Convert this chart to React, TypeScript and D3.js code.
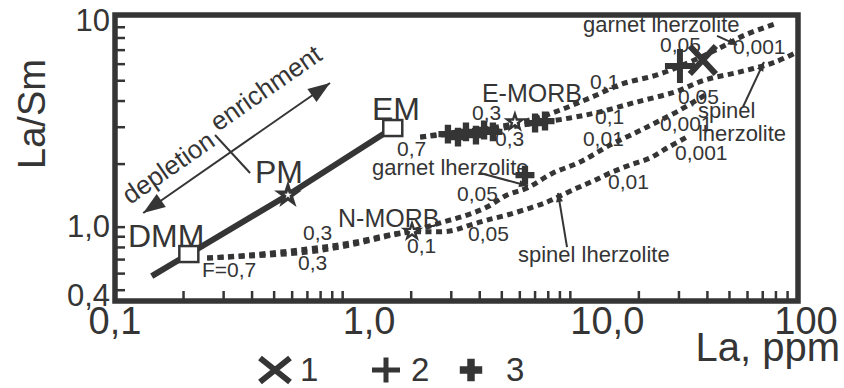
import React, { useEffect, useRef } from "react";
import * as d3 from "d3";

// La (ppm) vs La/Sm
const mixingLine = [[0.145, 0.584], [0.211, 0.744], [0.575, 1.423], [1.66, 2.973]];

const reservoirs = [
  { name: "DMM", la: 0.211, ratio: 0.744, kind: "square", labelLa: 0.114, labelRatio: 0.803 },
  { name: "PM", la: 0.575, ratio: 1.423, kind: "star", labelLa: 0.412, labelRatio: 1.624 },
  { name: "EM", la: 1.66, ratio: 2.973, kind: "square", labelLa: 1.345, labelRatio: 3.246 },
];

// melting curves (dotted)
const garnetFromEM = [[2.19, 2.69], [2.96, 2.82], [4.44, 2.97], [6.65, 3.25], [9.01, 3.62], [12.2, 4.14], [16.9, 4.83], [24.0, 5.33], [33.5, 6.14], [45.4, 7.17], [58.5, 8.27], [79.3, 9.33]];
const spinelFromEM = [[2.19, 2.69], [2.96, 2.78], [4.44, 2.91], [6.65, 3.11], [9.97, 3.32], [13.5, 3.55], [19.6, 3.96], [28.8, 4.42], [39.0, 5.04], [55.6, 5.51], [79.3, 6.14], [99, 6.86]];
const garnetFromDMM = [[0.254, 0.712], [0.392, 0.736], [0.697, 0.786], [1.077, 0.839], [1.664, 0.927], [2.016, 0.958], [2.759, 1.058], [3.517, 1.142], [4.305, 1.247], [5.271, 1.423], [6.453, 1.537], [8.391, 1.813], [11.03, 2.046], [14.94, 2.466], [19.63, 2.846], [24.03, 3.176], [30.31, 3.624], [39.04, 4.275]];
const spinelFromDMM = [[0.254, 0.712], [0.392, 0.728], [0.697, 0.76], [1.077, 0.821], [1.664, 0.917], [2.016, 0.948], [2.96, 0.958], [3.626, 1.023], [4.305, 1.081], [5.271, 1.142], [6.651, 1.234], [7.899, 1.318], [9.006, 1.408], [10.7, 1.537], [12.58, 1.66], [14.94, 1.813], [18.28, 1.98], [22.38, 2.138], [26.59, 2.386], [32.54, 2.693]];
const meltCurves = [garnetFromEM, spinelFromEM, garnetFromDMM, spinelFromDMM];

// basalts: N-MORB and E-MORB (stars)
const morb = [
  { name: "N-MORB", la: 2.016, ratio: 0.955, labelLa: 0.954, labelRatio: 1.001 },
  { name: "E-MORB", la: 5.71, ratio: 3.176, labelLa: 4.09, labelRatio: 3.958 },
];

// samples, groups 1..3
const samples1 = [[38.2, 6.28]];
const samples2 = [[30.3, 5.88]];
const samples3 = [[2.9, 2.78], [3.21, 2.69], [3.48, 2.85], [3.85, 2.75], [4.18, 2.91], [4.57, 2.85], [7.0, 3.14], [7.74, 3.21], [6.32, 1.77]];

// degree of melting labels
const meltLabels = [
  { t: "F=0,7", la: 0.241, r: 0.578 },
  { t: "0,3", la: 0.67, r: 0.868 },
  { t: "0,3", la: 0.637, r: 0.624 },
  { t: "0,1", la: 1.917, r: 0.752 },
  { t: "0,05", la: 3.178, r: 1.332 },
  { t: "0,05", la: 3.552, r: 0.858 },
  { t: "0,01", la: 11.36, r: 2.439 },
  { t: "0,01", la: 14.64, r: 1.52 },
  { t: "0,001", la: 24.76, r: 2.877 },
  { t: "0,001", la: 28.82, r: 2.091 },
  { t: "0,7", la: 1.732, r: 2.185 },
  { t: "0,3", la: 3.699, r: 3.26 },
  { t: "0,3", la: 4.668, r: 2.439 },
  { t: "0,1", la: 12.2, r: 4.566 },
  { t: "0,1", la: 12.83, r: 3.107 },
  { t: "0,05", la: 29.71, r: 3.86 },
  { t: "0,05", la: 24.76, r: 6.86 },
  { t: "0,001", la: 51.8, r: 6.71 },
];

const rockLabels = [
  { t: "garnet lherzolite", la: 11.36, r: 8.55 },
  { t: "garnet lherzolite", la: 1.345, r: 1.774 },
  { t: "spinel", la: 36.36, r: 3.319 },
  { t: "lherzolite", la: 36.36, r: 2.577 },
  { t: "spinel lherzolite", la: 5.89, r: 0.681 },
];

// pointer lines from the rock labels to the curves
const pointers = [
  [[44.1, 8.18], [53.96, 7.41]],
  [[4.01, 1.813], [6.52, 1.572]],
  [[57.3, 3.746], [70.9, 6.144]],
  [[9.67, 0.803], [8.83, 1.455]],
];

// depletion / enrichment arrow
const trendArrow = [[0.133, 1.168], [0.88, 4.88]];
const trendDivider = [[0.275, 2.754], [0.392, 1.813]];
const trendText = [
  { t: "depletion", la: 0.1164, r: 1.275 },
  { t: "enrichment", la: 0.2835, r: 2.846 },
];

const xMinorTicks = [0.2, 0.3, 0.4, 0.5, 0.6, 0.7, 0.8, 0.9, 1, 2, 3, 4, 5, 6, 7, 8, 9, 10, 20, 30, 40, 50, 60, 70, 80, 90];
const xTickLabels = [{ v: 0.1, t: "0,1" }, { v: 1, t: "1,0" }, { v: 10, t: "10,0" }, { v: 100, t: "100" }];
const yMinorTicks = [0.5, 0.6, 0.7, 0.8, 0.9, 1, 2, 3, 4, 5, 6, 7, 8, 9];
const yTickLabels = [{ v: 10.3, t: "10" }, { v: 1, t: "1,0" }, { v: 0.444, t: "0,4" }];

const legendItems = ["1", "2", "3"];

const ink = "#353535";
const font = "'Liberation Sans', Arial, sans-serif";

const App = () => {
  const svgRef = useRef(null);

  useEffect(() => {
    const svg = d3.select(svgRef.current);
    svg.selectAll("*").remove();

    const x = d3.scaleLog().domain([0.1, 100]).range([115, 798]);
    const y = d3.scaleLog().domain([0.444, 10.3]).range([301, 15]);

    const g = svg.append("g");

    const head = (x1, y1, x2, y2, len, half) => {
      const a = Math.atan2(y2 - y1, x2 - x1);
      const bx = x2 - len * Math.cos(a);
      const by = y2 - len * Math.sin(a);
      const px = -Math.sin(a) * half;
      const py = Math.cos(a) * half;
      g.append("path")
        .attr("d", `M${x2},${y2}L${bx + px},${by + py}L${bx - px},${by - py}Z`)
        .attr("fill", ink);
    };

    // dotted melting curves
    const curveLine = d3
      .line()
      .x((d) => x(d[0]))
      .y((d) => y(d[1]))
      .curve(d3.curveCatmullRom.alpha(0.5));
    meltCurves.forEach((c) => {
      g.append("path")
        .attr("d", curveLine(c))
        .attr("fill", "none")
        .attr("stroke", ink)
        .attr("stroke-width", 5)
        .attr("stroke-dasharray", "6 4.5");
    });

    // mixing line
    g.append("path")
      .attr("d", d3.line().x((d) => x(d[0])).y((d) => y(d[1]))(mixingLine))
      .attr("fill", "none")
      .attr("stroke", ink)
      .attr("stroke-width", 6);

    // trend arrow
    const [a0, a1] = trendArrow.map((d) => [x(d[0]), y(d[1])]);
    g.append("line")
      .attr("x1", a0[0]).attr("y1", a0[1]).attr("x2", a1[0]).attr("y2", a1[1])
      .attr("stroke", ink).attr("stroke-width", 2);
    head(a1[0], a1[1], a0[0], a0[1], 22, 8);
    head(a0[0], a0[1], a1[0], a1[1], 22, 8);
    g.append("line")
      .attr("x1", x(trendDivider[0][0])).attr("y1", y(trendDivider[0][1]))
      .attr("x2", x(trendDivider[1][0])).attr("y2", y(trendDivider[1][1]))
      .attr("stroke", ink).attr("stroke-width", 2);
    const ang = (Math.atan2(a1[1] - a0[1], a1[0] - a0[0]) * 180) / Math.PI;
    trendText.forEach((d) => {
      g.append("text")
        .attr("transform", `translate(${x(d.la)},${y(d.r)}) rotate(${ang})`)
        .attr("font-size", 26)
        .attr("font-family", font)
        .attr("fill", ink)
        .text(d.t);
    });

    // pointers
    pointers.forEach(([p, q]) => {
      const x1 = x(p[0]), y1 = y(p[1]), x2 = x(q[0]), y2 = y(q[1]);
      g.append("line")
        .attr("x1", x1).attr("y1", y1).attr("x2", x2).attr("y2", y2)
        .attr("stroke", ink).attr("stroke-width", 2);
      head(x1, y1, x2, y2, 9, 3.5);
    });

    // reservoirs
    reservoirs.forEach((d) => {
      const cx = x(d.la), cy = y(d.ratio);
      if (d.kind === "square") {
        g.append("rect")
          .attr("x", cx - 9.5).attr("y", cy - 8)
          .attr("width", 19).attr("height", 16)
          .attr("fill", "white").attr("stroke", ink).attr("stroke-width", 2.5);
      } else {
        g.append("path")
          .attr("transform", `translate(${cx},${cy})`)
          .attr("d", d3.symbol(d3.symbolStar, 240)())
          .attr("fill", ink);
        g.append("path")
          .attr("transform", `translate(${cx},${cy})`)
          .attr("d", d3.symbol(d3.symbolStar, 18)())
          .attr("fill", "white");
      }
      g.append("text")
        .attr("x", x(d.labelLa)).attr("y", y(d.labelRatio))
        .attr("font-size", 32).attr("font-family", font).attr("fill", ink)
        .text(d.name);
    });

    // sample markers
    const drawX = (cx, cy, w, h, sw) => {
      g.append("path")
        .attr("d", `M${cx - w / 2},${cy - h / 2}L${cx + w / 2},${cy + h / 2}M${cx - w / 2},${cy + h / 2}L${cx + w / 2},${cy - h / 2}`)
        .attr("stroke", ink).attr("stroke-width", sw).attr("fill", "none");
    };
    const drawPlus = (cx, cy, w, h, sw) => {
      g.append("path")
        .attr("d", `M${cx - w / 2},${cy}L${cx + w / 2},${cy}M${cx},${cy - h / 2}L${cx},${cy + h / 2}`)
        .attr("stroke", ink).attr("stroke-width", sw).attr("fill", "none");
    };
    const drawFat = (cx, cy, size) => {
      g.append("path")
        .attr("transform", `translate(${cx},${cy})`)
        .attr("d", d3.symbol(d3.symbolCross, size)())
        .attr("fill", ink);
    };
    samples3.forEach((d) => drawFat(x(d[0]), y(d[1]), 200));
    samples2.forEach((d) => drawPlus(x(d[0]), y(d[1]), 30, 34, 6));
    samples1.forEach((d) => drawX(x(d[0]), y(d[1]), 26, 28, 6));

    // MORB stars
    morb.forEach((d) => {
      const cx = x(d.la), cy = y(d.ratio);
      g.append("path")
        .attr("transform", `translate(${cx},${cy})`)
        .attr("d", d3.symbol(d3.symbolStar, 160)())
        .attr("fill", ink);
      g.append("path")
        .attr("transform", `translate(${cx},${cy})`)
        .attr("d", d3.symbol(d3.symbolStar, 22)())
        .attr("fill", "white");
      g.append("text")
        .attr("x", x(d.labelLa)).attr("y", y(d.labelRatio))
        .attr("font-size", 25).attr("font-family", font).attr("fill", ink)
        .text(d.name);
    });

    // numbers on the curves
    meltLabels.forEach((d) => {
      g.append("text")
        .attr("x", x(d.la)).attr("y", y(d.r))
        .attr("font-size", 21).attr("font-family", font).attr("fill", ink)
        .text(d.t);
    });
    rockLabels.forEach((d) => {
      g.append("text")
        .attr("x", x(d.la)).attr("y", y(d.r))
        .attr("font-size", 22).attr("font-family", font).attr("fill", ink)
        .text(d.t);
    });

    // frame and ticks
    const [x0, x1] = x.range();
    const [yb, yt] = y.range();
    g.append("rect")
      .attr("x", x0).attr("y", yt)
      .attr("width", x1 - x0).attr("height", yb - yt)
      .attr("fill", "none").attr("stroke", ink).attr("stroke-width", 5.5);
    xMinorTicks.forEach((v) => {
      g.append("line")
        .attr("x1", x(v)).attr("x2", x(v)).attr("y1", yb).attr("y2", yb - 10)
        .attr("stroke", ink).attr("stroke-width", 2.5);
    });
    yMinorTicks.forEach((v) => {
      g.append("line")
        .attr("x1", x0).attr("x2", x0 + 10).attr("y1", y(v)).attr("y2", y(v))
        .attr("stroke", ink).attr("stroke-width", 2.5);
    });
    xTickLabels.forEach((d, i) => {
      const edge = i === 0 || i === xTickLabels.length - 1;
      g.append("text")
        .attr("x", x(d.v) + (i === xTickLabels.length - 1 ? 8 : 0))
        .attr("y", 334)
        .attr("text-anchor", edge ? "middle" : "start")
        .attr("font-size", 38).attr("font-family", font).attr("fill", ink)
        .text(d.t);
    });
    const yShift = [16, 10, 5];
    yTickLabels.forEach((d, i) => {
      g.append("text")
        .attr("x", 110)
        .attr("y", y(d.v) + yShift[i])
        .attr("text-anchor", "end")
        .attr("font-size", 31).attr("font-family", font).attr("fill", ink)
        .text(d.t);
    });

    // axis titles
    g.append("text")
      .attr("transform", `translate(45,${(yt + yb) / 2 - 44}) rotate(-90)`)
      .attr("text-anchor", "middle")
      .attr("font-size", 38).attr("font-family", font).attr("fill", ink)
      .text("La/Sm");
    g.append("text")
      .attr("x", 840).attr("y", 361)
      .attr("text-anchor", "end")
      .attr("font-size", 40).attr("font-family", font).attr("fill", ink)
      .text("La, ppm");

    // legend
    const ly = 370;
    drawX(275, ly, 30, 24, 6);
    drawPlus(386, ly, 28, 25, 5);
    drawFat(471, ly, 280);
    const lx = [300, 411, 506];
    legendItems.forEach((t, i) => {
      g.append("text")
        .attr("x", lx[i]).attr("y", ly + 11)
        .attr("font-size", 33).attr("font-family", font).attr("fill", ink)
        .text(t);
    });
  }, []);

  return (
    <svg
      ref={svgRef}
      width={844}
      height={388}
      style={{ position: "absolute", left: 0, top: 0, background: "white" }}
    ></svg>
  );
};

export default App;
